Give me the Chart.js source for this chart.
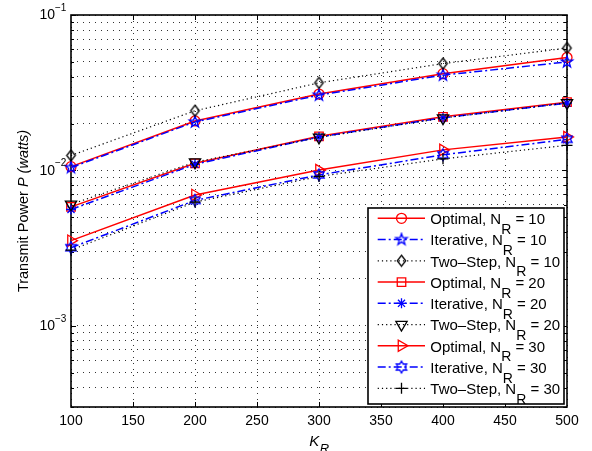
<!DOCTYPE html>
<html>
<head>
<meta charset="utf-8">
<script src="https://cdn.jsdelivr.net/npm/chart.js@4.4.1/dist/chart.umd.min.js"></script>
<style>
  html, body { margin: 0; padding: 0; background: #fff; }
</style>
</head>
<body>
<canvas id="myChart" width="592" height="451"></canvas>
<script>
// values
const kR = [100, 200, 300, 400, 500];

const optimal10   = [0.01057, 0.0208, 0.0310, 0.0419, 0.0533];
const iterative10 = [0.01043, 0.0205, 0.0305, 0.0410, 0.0499];
const twoStep10   = [0.01247, 0.0242, 0.0366, 0.0487, 0.0613];
const optimal20   = [0.00582, 0.0111, 0.01656, 0.02213, 0.02748];
const iterative20 = [0.00560, 0.01094, 0.0164, 0.0218, 0.0271];
const twoStep20   = [0.00605, 0.0113, 0.0163, 0.0217, 0.0272];
const optimal30   = [0.00353, 0.00695, 0.01004, 0.01355, 0.0164];
const iterative30 = [0.00318, 0.00641, 0.00935, 0.01259, 0.01585];
const twoStep30   = [0.00307, 0.00625, 0.00914, 0.01186, 0.0145];

const seriesLabels = [
    'Optimal, N_R = 10', 'Iterative, N_R = 10', 'Two\u2013Step, N_R = 10',
    'Optimal, N_R = 20', 'Iterative, N_R = 20', 'Two\u2013Step, N_R = 20',
    'Optimal, N_R = 30', 'Iterative, N_R = 30', 'Two\u2013Step, N_R = 30'
];
const seriesData = [optimal10, iterative10, twoStep10, optimal20, iterative20, twoStep20, optimal30, iterative30, twoStep30];

const xMin = 100, xMax = 500, xStep = 50;
const yMin = 3e-4, yMax = 1e-1;
const yDecades = [1e-3, 1e-2, 1e-1];   // labelled ticks
const yGrid = [];                      // minor + major grid values
[1e-4, 1e-3, 1e-2].forEach(d => {
    for (let m = 1; m <= 9; m++) {
        const v = +(m * d).toPrecision(3);
        if (v >= yMin && v <= yMax) yGrid.push(v);
    }
});
yGrid.push(yMax);

const FONT = "'Liberation Sans', Arial, Helvetica, sans-serif";

// marker images for shapes chart.js does not have
function starCanvas(points, outer, inner, color) {
    const s = Math.ceil(outer * 2 + 4);
    const c = document.createElement('canvas');
    c.width = s; c.height = s;
    const g = c.getContext('2d');
    g.strokeStyle = color;
    g.lineWidth = 1.3;
    g.beginPath();
    for (let i = 0; i < points * 2; i++) {
        const r = i % 2 ? inner : outer;
        const ang = -Math.PI / 2 + i * Math.PI / points;
        const px = s / 2 + r * Math.cos(ang), py = s / 2 + r * Math.sin(ang);
        if (i) g.lineTo(px, py); else g.moveTo(px, py);
    }
    g.closePath();
    g.stroke();
    return c;
}
function diamondCanvas(w, h, color) {
    const c = document.createElement('canvas');
    c.width = Math.ceil(w + 4); c.height = Math.ceil(h + 4);
    const g = c.getContext('2d');
    const cx = c.width / 2, cy = c.height / 2;
    g.strokeStyle = color;
    g.lineWidth = 1.3;
    g.beginPath();
    g.moveTo(cx, cy - h / 2);
    g.lineTo(cx + w / 2, cy);
    g.lineTo(cx, cy + h / 2);
    g.lineTo(cx - w / 2, cy);
    g.closePath();
    g.stroke();
    return c;
}

const lineStyles = {
    optimal:   { color: '#ff0000', width: 1.5, dash: [] },
    iterative: { color: '#0000ff', width: 1.5, dash: [8, 3, 2, 3] },
    twoStep:   { color: '#000000', width: 1.2, dash: [1.2, 3] }
};
const kinds = ['optimal', 'iterative', 'twoStep'];

const markers = [
    { pointStyle: 'circle', radius: 5, rotation: 0 },
    { pointStyle: starCanvas(5, 6, 2.4, '#0000ff'), radius: 6, rotation: 0 },
    { pointStyle: diamondCanvas(8.5, 11, '#000000'), radius: 6, rotation: 0 },
    { pointStyle: 'rect', radius: 6, rotation: 0 },
    { pointStyle: 'star', radius: 5, rotation: 0 },
    { pointStyle: 'triangle', radius: 6.5, rotation: 180 },
    { pointStyle: 'triangle', radius: 6.5, rotation: 90 },
    { pointStyle: starCanvas(6, 6, 3.46, '#0000ff'), radius: 6, rotation: 0 },
    { pointStyle: 'cross', radius: 5.5, rotation: 0 }
];

const datasets = seriesData.map((vals, i) => {
    const st = lineStyles[kinds[i % 3]];
    const mk = markers[i];
    return {
        label: seriesLabels[i],
        data: kR.map((x, j) => ({ x: x, y: vals[j] })),
        borderColor: st.color,
        borderWidth: st.width,
        borderDash: st.dash,
        backgroundColor: 'rgba(0,0,0,0)',
        pointStyle: mk.pointStyle,
        pointRadius: mk.radius,
        pointRotation: mk.rotation,
        pointBorderColor: st.color,
        pointBackgroundColor: 'rgba(0,0,0,0)',
        pointBorderWidth: 1.3,
        tension: 0,
        clip: false,
        order: seriesData.length - i
    };
});

// axes frame, inward ticks, axis titles and y labels (MATLAB look)
const axesPlugin = {
    id: 'matlabAxes',
    beforeDatasetsDraw(chart) {
        const ctx = chart.ctx, a = chart.chartArea;
        const xs = chart.scales.x, ys = chart.scales.y;
        ctx.save();
        ctx.strokeStyle = '#000';
        ctx.lineWidth = 1;
        ctx.beginPath();
        for (let v = xMin + xStep; v < xMax; v += xStep) {
            const px = Math.round(xs.getPixelForValue(v)) + 0.5;
            ctx.moveTo(px, a.bottom); ctx.lineTo(px, a.bottom - 5);
            ctx.moveTo(px, a.top); ctx.lineTo(px, a.top + 5);
        }
        yGrid.forEach(v => {
            const py = Math.round(ys.getPixelForValue(v)) + 0.5;
            const len = yDecades.includes(v) ? 5 : 3;
            ctx.moveTo(a.left, py); ctx.lineTo(a.left + len, py);
            ctx.moveTo(a.right, py); ctx.lineTo(a.right - len, py);
        });
        ctx.stroke();
        ctx.lineWidth = 1.6;
        ctx.strokeRect(a.left, a.top, a.right - a.left, a.bottom - a.top);
        ctx.restore();
    },
    afterDraw(chart) {
        const ctx = chart.ctx, a = chart.chartArea;
        const ys = chart.scales.y;
        ctx.save();
        ctx.fillStyle = '#000';
        // y decade labels 10^n
        yDecades.forEach(v => {
            const py = ys.getPixelForValue(v);
            const e = Math.round(Math.log10(v));
            ctx.font = '14px ' + FONT;
            ctx.textAlign = 'right';
            ctx.textBaseline = 'middle';
            ctx.fillText('10', a.left - 16, py + 0.5);
            ctx.font = '10px ' + FONT;
            ctx.textAlign = 'left';
            ctx.fillText((e < 0 ? '\u2212' : '') + Math.abs(e), a.left - 16, py - 7);
        });
        // y title
        ctx.save();
        ctx.translate(24, (a.top + a.bottom) / 2);
        ctx.rotate(-Math.PI / 2);
        ctx.textBaseline = 'middle';
        ctx.textAlign = 'left';
        const parts = [['Transmit Power ', ''], ['P', 'italic '], [' (watts)', 'italic ']];
        let total = 0;
        parts.forEach(p => { ctx.font = p[1] + '14.5px ' + FONT; total += ctx.measureText(p[0]).width; });
        let x = -total / 2;
        parts.forEach(p => {
            ctx.font = p[1] + '14.5px ' + FONT;
            ctx.fillText(p[0], x, 0);
            x += ctx.measureText(p[0]).width;
        });
        ctx.restore();
        // x title K_R
        ctx.textAlign = 'left';
        ctx.textBaseline = 'alphabetic';
        ctx.font = 'italic 15px ' + FONT;
        const kw = ctx.measureText('K').width;
        ctx.font = 'italic 13px ' + FONT;
        const rw = ctx.measureText('R').width;
        const x0 = (a.left + a.right) / 2 - (kw + rw) / 2;
        ctx.font = 'italic 15px ' + FONT;
        ctx.fillText('K', x0, a.bottom + 38.7);
        ctx.font = 'italic 13px ' + FONT;
        ctx.fillText('R', x0 + kw + 0.5, a.bottom + 46);
        ctx.restore();
    }
};

// legend box in the lower right corner
const legendPlugin = {
    id: 'matlabLegend',
    afterDraw(chart) {
        const ctx = chart.ctx, a = chart.chartArea;
        const bw = 196, bh = 196;
        const bx = a.right - 3 - bw, by = a.bottom - 3 - bh;
        ctx.save();
        ctx.fillStyle = '#fff';
        ctx.fillRect(bx, by, bw, bh);
        ctx.strokeStyle = '#000';
        ctx.lineWidth = 1.6;
        ctx.strokeRect(bx, by, bw, bh);

        chart.data.datasets.forEach((ds, i) => {
            const cy = by + 10.3 + i * 21.25;
            const lx0 = bx + 9.7, lx1 = bx + 57, mx = bx + 33.5;
            ctx.save();
            ctx.strokeStyle = ds.borderColor;
            ctx.lineWidth = ds.borderWidth;
            ctx.setLineDash(ds.borderDash);
            ctx.beginPath();
            ctx.moveTo(lx0, cy); ctx.lineTo(lx1, cy);
            ctx.stroke();
            ctx.setLineDash([]);
            ctx.lineWidth = ds.pointBorderWidth;
            ctx.strokeStyle = ds.pointBorderColor;
            ctx.fillStyle = 'rgba(0,0,0,0)';
            Chart.helpers.drawPoint(ctx, {
                pointStyle: ds.pointStyle, radius: ds.pointRadius,
                rotation: ds.pointRotation, borderWidth: ds.pointBorderWidth
            }, mx, cy);
            ctx.restore();

            const [head, tail] = ds.label.split('_R');
            let tx = bx + 62.3;
            ctx.fillStyle = '#000';
            ctx.textAlign = 'left';
            ctx.textBaseline = 'alphabetic';
            ctx.font = '15px ' + FONT;
            ctx.fillText(head, tx, cy + 5.7);
            tx += ctx.measureText(head).width;
            ctx.font = '14px ' + FONT;
            ctx.fillText('R', tx, cy + 15.5);
            tx += ctx.measureText('R').width;
            ctx.font = '15px ' + FONT;
            ctx.fillText(tail, tx, cy + 5.7);
        });
        ctx.restore();
    }
};

const gridStyle = { color: 'rgba(0,0,0,0.8)', lineWidth: 1, drawTicks: false };

new Chart(document.getElementById('myChart'), {
    type: 'line',
    data: { datasets: datasets },
    options: {
        responsive: false,
        animation: false,
        devicePixelRatio: 1,
        layout: { padding: { left: 0, right: 25, top: 15, bottom: 0 } },
        plugins: {
            legend: { display: false },
            tooltip: { enabled: false }
        },
        scales: {
            x: {
                type: 'linear',
                min: xMin,
                max: xMax,
                grid: gridStyle,
                border: { display: false, dash: [1, 5] },
                ticks: {
                    stepSize: xStep,
                    color: '#000',
                    padding: 6,
                    maxRotation: 0,
                    font: { family: FONT, size: 14 }
                },
                afterFit: s => { s.height = 44; }
            },
            y: {
                type: 'logarithmic',
                min: yMin,
                max: yMax,
                grid: gridStyle,
                border: { display: false, dash: [1, 5] },
                ticks: { display: false, autoSkip: false },
                afterBuildTicks: s => { s.ticks = yGrid.map(v => ({ value: v, major: yDecades.includes(v) })); },
                afterFit: s => { s.width = 71; }
            }
        }
    },
    plugins: [axesPlugin, legendPlugin]
});
</script>
</body>
</html>
